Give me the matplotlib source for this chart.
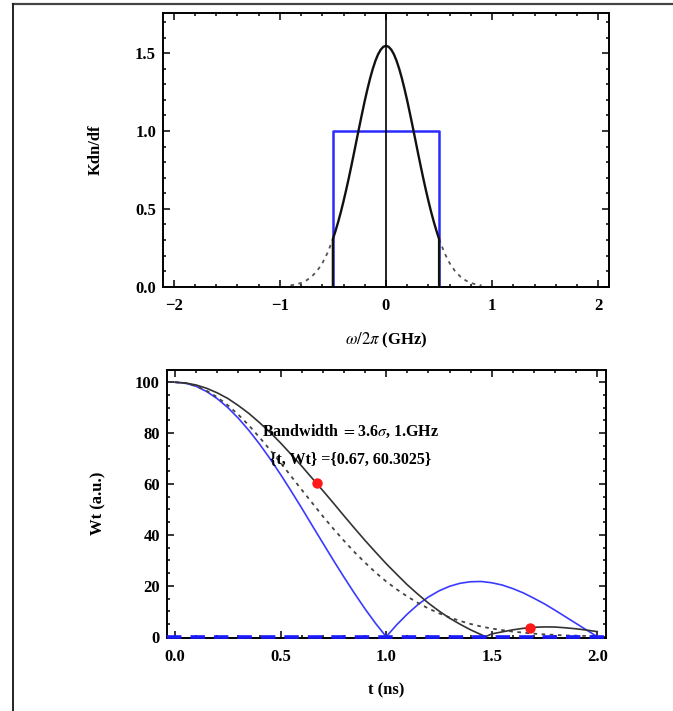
import numpy as np
import matplotlib.pyplot as plt
from matplotlib.lines import Line2D
from matplotlib.ticker import MultipleLocator

plt.rcParams['font.family'] = ['Liberation Serif', 'DejaVu Serif']
plt.rcParams['mathtext.fontset'] = 'stix'

# top panel: spectrum (GHz) and filter
freq = [-0.9, -0.85, -0.8, -0.75, -0.7, -0.65, -0.6, -0.55,
        -0.5, -0.475, -0.45, -0.425, -0.4, -0.375, -0.35, -0.325, -0.3, -0.275,
        -0.25, -0.225, -0.2, -0.175, -0.15, -0.125, -0.1, -0.075, -0.05, -0.025,
        0.0, 0.025, 0.05, 0.075, 0.1, 0.125, 0.15, 0.175, 0.2, 0.225,
        0.25, 0.275, 0.3, 0.325, 0.35, 0.375, 0.4, 0.425, 0.45, 0.475, 0.5,
        0.55, 0.6, 0.65, 0.7, 0.75, 0.8, 0.85, 0.9]
kdn = [0.008, 0.014, 0.024, 0.040, 0.065, 0.100, 0.150, 0.218,
       0.306, 0.359, 0.417, 0.480, 0.549, 0.622, 0.699, 0.780, 0.863, 0.948,
       1.032, 1.114, 1.194, 1.268, 1.337, 1.398, 1.450, 1.492, 1.522, 1.541,
       1.547, 1.541, 1.522, 1.492, 1.450, 1.398, 1.337, 1.268, 1.194, 1.114,
       1.032, 0.948, 0.863, 0.780, 0.699, 0.622, 0.549, 0.480, 0.417, 0.359, 0.306,
       0.218, 0.150, 0.100, 0.065, 0.040, 0.024, 0.014, 0.008]
filter_edges = [-0.5, 0.5]
filter_level = 1.0

# bottom panel: time response (ns)
t = [0.0, 0.05, 0.1, 0.15, 0.2, 0.25, 0.3, 0.35, 0.4, 0.45, 0.5,
     0.55, 0.6, 0.65, 0.7, 0.75, 0.8, 0.85, 0.9, 0.95, 1.0,
     1.05, 1.1, 1.15, 1.2, 1.25, 1.3, 1.35, 1.4, 1.45, 1.5,
     1.55, 1.6, 1.65, 1.7, 1.75, 1.8, 1.85, 1.9, 1.95, 2.0]
w_rect = [100, 99.6, 98.4, 96.3, 93.5, 90.0, 85.8, 81.0, 75.7, 69.9, 63.7,
          57.2, 50.5, 43.6, 36.8, 30.0, 23.4, 17.0, 10.9, 5.2, 0.0,
          4.7, 8.9, 12.6, 15.6, 18.0, 19.8, 21.0, 21.6, 21.7, 21.2,
          20.3, 18.9, 17.2, 15.1, 12.9, 10.4, 7.8, 5.2, 2.6, 0.0]
w_gauss = [100, 99.6, 98.5, 96.6, 94.1, 90.9, 87.2, 83.0, 78.3, 73.4, 68.3,
           63.0, 57.7, 52.5, 47.3, 42.4, 37.7, 33.2, 29.1, 25.2, 21.7,
           18.6, 15.8, 13.3, 11.1, 9.2, 7.6, 6.2, 5.0, 4.0, 3.2,
           2.6, 2.0, 1.6, 1.2, 0.9, 0.7, 0.5, 0.4, 0.3, 0.2]
t_trunc = [0.0, 0.05, 0.1, 0.15, 0.2, 0.25, 0.3, 0.35, 0.4, 0.45, 0.5,
           0.55, 0.6, 0.65, 0.7, 0.75, 0.8, 0.85, 0.9, 0.95, 1.0,
           1.05, 1.1, 1.15, 1.2, 1.25, 1.3, 1.35, 1.4, 1.45, 1.47, 1.5,
           1.55, 1.6, 1.65, 1.7, 1.75, 1.8, 1.85, 1.9, 1.95, 2.0]
w_trunc = [100, 99.7, 98.9, 97.6, 95.8, 93.6, 90.8, 87.7, 84.1, 80.3, 76.1,
           71.6, 67.0, 62.2, 57.4, 52.5, 47.5, 42.6, 37.8, 33.2, 28.7,
           24.5, 20.4, 16.7, 13.2, 10.1, 7.3, 4.9, 2.7, 0.8, 0.0, 1.1,
           1.9, 2.7, 3.3, 3.7, 3.85, 3.8, 3.5, 3.1, 2.6, 2.0]
mark_t = [0.67, 1.68]
mark_w = [60.3025, 3.6]
baseline = 0.0

freq = np.array(freq)
kdn = np.array(kdn)

fig = plt.figure(figsize=(6.73, 7.11), dpi=100)

def style(ax):
    ax.tick_params(which='both', direction='in', top=True, right=True, width=1.1)
    ax.tick_params(which='major', length=5, labelsize=12)
    ax.tick_params(axis='x', which='major', pad=8)
    ax.tick_params(axis='y', which='major', pad=5)
    ax.tick_params(which='minor', length=2.5)
    for lab in ax.get_xticklabels() + ax.get_yticklabels():
        lab.set_fontweight('bold')
    for s in ax.spines.values():
        s.set_linewidth(1.4)

ax1 = fig.add_axes([0.2422, 0.5968, 0.6627, 0.3845])
ax1.set_xlim(-2.1, 2.1)
ax1.set_ylim(0, 1.756)
ax1.xaxis.set_major_locator(MultipleLocator(1))
ax1.xaxis.set_minor_locator(MultipleLocator(0.2))
ax1.yaxis.set_major_locator(MultipleLocator(0.5))
ax1.yaxis.set_minor_locator(MultipleLocator(0.1))
ax1.xaxis.set_major_formatter(lambda v, p: '\u2212%d' % -v if v < 0 else '%d' % v)
ax1.yaxis.set_major_formatter(lambda v, p: '%.1f' % v)

left_tail = freq <= filter_edges[0]
right_tail = freq >= filter_edges[1]
inside = (freq >= filter_edges[0]) & (freq <= filter_edges[1])
ax1.plot(freq[left_tail], kdn[left_tail], ls=(0, (2, 2.5)), color='#555555', lw=1.3)
ax1.plot(freq[right_tail], kdn[right_tail], ls=(0, (2, 2.5)), color='#555555', lw=1.3)
ax1.plot([filter_edges[0], filter_edges[0], filter_edges[1], filter_edges[1]],
         [0, filter_level, filter_level, 0], color='#2a2aff', lw=1.8)
ax1.plot(np.concatenate([[filter_edges[0]], freq[inside], [filter_edges[1]]]),
         np.concatenate([[0], kdn[inside], [0]]), color='#111111', lw=1.7)
ax1.axvline(0, color='black', lw=1.2)
ax1.set_ylabel('Kdn/df', fontsize=12, fontweight='bold')
ax1.yaxis.set_label_coords(-0.132, 0.5)
ax1.set_xlabel(r'$\omega/2\pi$ (GHz)', fontsize=12, fontweight='bold')
ax1.xaxis.set_label_coords(0.5, -0.160)
style(ax1)

ax2 = fig.add_axes([0.2477, 0.1027, 0.6523, 0.3776])
ax2.set_xlim(-0.04, 2.04)
ax2.set_ylim(-0.5, 105)
ax2.xaxis.set_major_locator(MultipleLocator(0.5))
ax2.xaxis.set_minor_locator(MultipleLocator(0.1))
ax2.yaxis.set_major_locator(MultipleLocator(20))
ax2.yaxis.set_minor_locator(MultipleLocator(5))
ax2.xaxis.set_major_formatter(lambda v, p: '%.1f' % v)
ax2.yaxis.set_major_formatter(lambda v, p: '%d' % v)

ax2.axhline(baseline, color='#1a1aff', lw=2.6, ls=(0, (4, 2.5)), zorder=5, clip_on=False)
ax2.plot(t, w_rect, color='#3a3aff', lw=1.2)
ax2.plot(t, w_gauss, color='#444444', lw=1.3, ls=(0, (2, 2.5)))
ax2.plot(t_trunc, w_trunc, color='#333333', lw=1.2)
ax2.plot(mark_t, mark_w, 'o', color='#ff1a1a', ms=7.5, mec='none', zorder=6)
ax2.text(0.83, 80.5, r'Bandwidth $=$3.6$\sigma$, 1.GHz', fontsize=11.5,
         fontweight='bold', ha='center', va='center')
ax2.text(0.83, 69.5, '{t, Wt} ={%.2f, %.4f}' % (mark_t[0], mark_w[0]), fontsize=11.5,
         fontweight='bold', ha='center', va='center')
ax2.set_ylabel('Wt (a.u.)', fontsize=12, fontweight='bold')
ax2.yaxis.set_label_coords(-0.138, 0.5)
ax2.set_xlabel('t (ns)', fontsize=12, fontweight='bold')
ax2.xaxis.set_label_coords(0.5, -0.166)
style(ax2)

# page frame (top and left edges)
fig.add_artist(Line2D([13 / 673, 1.0], [1 - 4 / 711, 1 - 4 / 711], color='#444444', lw=1.6))
fig.add_artist(Line2D([13 / 673, 13 / 673], [0.0, 1 - 4 / 711], color='#222222', lw=1.4))

fig.savefig('out.png', dpi=100)
